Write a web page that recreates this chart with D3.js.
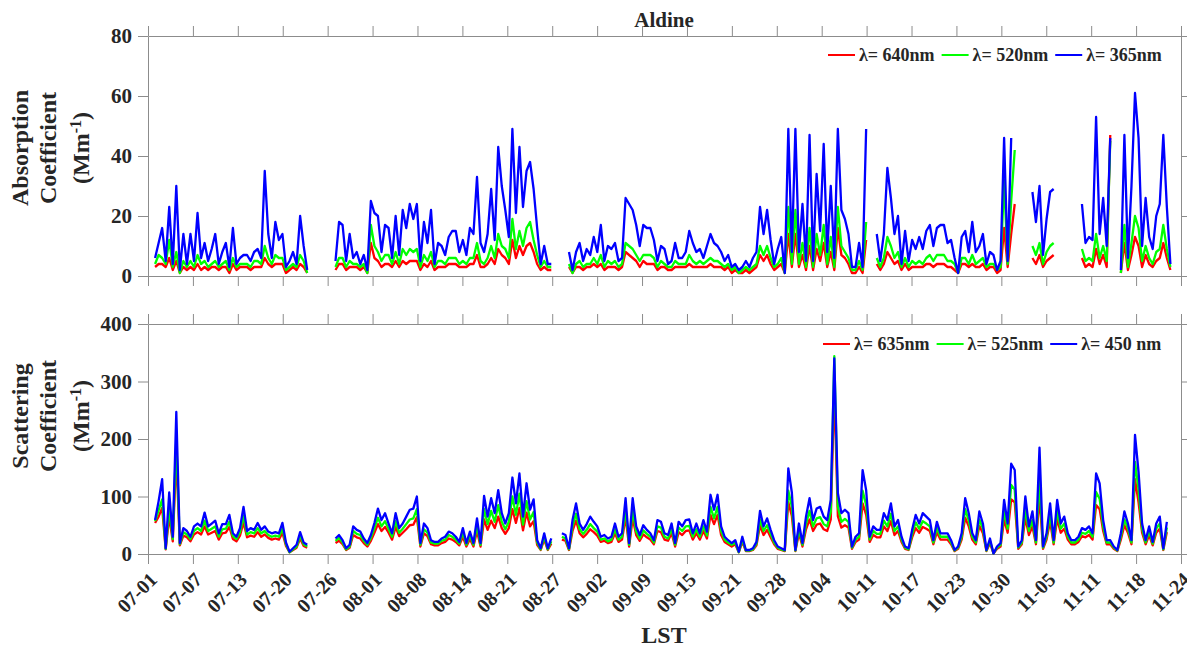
<!DOCTYPE html>
<html>
<head>
<meta charset="utf-8">
<script src="https://cdn.jsdelivr.net/npm/d3@7"></script>
<style>
  body { margin: 0; background: #fff; }
  text { font-family: "Liberation Serif", "Times New Roman", serif; font-weight: bold; fill: #262626; }
  .tick text { font-size: 21px; }
  .xdate .tick text { font-size: 20px; }
  .ylab { font-size: 24px; }
  .legend { font-size: 18px; }
</style>
</head>
<body>
<svg id="chart" width="1187" height="652"></svg>
<script>
// values, resampled to half-day steps starting at 07-02 (day 1 after 07-01)
var t0 = 1, dt = 0.5;

var dateLabels = ["07-01","07-07","07-13","07-20","07-26","08-01","08-08","08-14","08-21","08-27",
  "09-02","09-09","09-15","09-21","09-28","10-04","10-11","10-17","10-23","10-30","11-05","11-11","11-18","11-24"];
var absTicks = [0, 20, 40, 60, 80];
var scaTicks = [0, 100, 200, 300, 400];
var absNames = ["\u03bb= 640nm", "\u03bb= 520nm", "\u03bb= 365nm"];
var scaNames = ["\u03bb= 635nm", "\u03bb= 525nm", "\u03bb= 450 nm"];
var colors = ["#ff0000", "#00ff00", "#0000ff"];

// absorption coefficient (Mm-1)
var abs365 = [6,11,16,5,23,4,30,2,14,4,14,5,21,6,11,5,9,14,4,8,
  11,3,16,4,6,7,7,5,8,9,6,35,14,6,18,12,14,3,5,8,
  4,20,10,2,null,null,null,null,null,null,null,5,18,17,5,14,6,8,4,7,
  2,25,21,20,8,17,16,6,20,7,22,16,24,19,24,5,18,11,22,4,
  11,10,7,13,15,15,8,12,7,16,14,33,11,8,14,29,12,43,30,22,
  13,49,21,43,23,35,38,29,16,4,10,4,4,null,null,null,null,8,2,8,
  11,5,9,7,13,8,17,5,10,9,11,5,6,26,24,22,17,10,17,16,
  16,12,5,10,9,4,5,11,6,6,8,15,11,8,9,6,10,14,11,10,
  8,5,7,3,4,2,3,5,3,6,8,23,14,22,12,4,9,13,1,49,
  8,49,8,24,5,47,5,34,15,44,8,30,6,49,22,19,14,3,3,11,
  3,49,null,null,14,5,14,36,26,14,20,4,15,5,12,9,13,9,15,17,
  10,16,17,17,11,12,6,1,13,15,8,18,8,10,14,4,8,7,2,5,
  46,5,46,null,null,null,null,null,28,18,30,7,19,28,29,null,null,null,null,null,
  null,null,24,11,13,12,53,14,26,10,46,null,null,2,47,6,30,61,46,10,
  26,13,9,20,24,47,23,4];
var abs520 = [4,7,6,4,12,3,8,1,5,3,5,3,7,4,5,3,4,5,3,4,
  5,2,6,3,4,4,4,3,5,5,4,10,6,4,7,6,6,2,3,4,
  3,7,5,1,null,null,null,null,null,null,null,3,6,6,3,5,4,4,3,4,
  1,17,10,8,5,7,7,4,8,4,9,7,9,8,9,3,7,5,8,3,
  5,5,4,6,6,6,4,5,4,6,6,11,5,4,6,10,6,14,10,9,
  6,19,9,15,10,16,18,12,7,3,5,3,3,null,null,null,null,4,1,4,
  5,3,4,4,6,4,7,3,5,4,5,3,4,11,10,9,7,5,7,7,
  7,6,3,5,4,3,3,5,4,4,4,7,5,4,5,4,5,6,5,5,
  4,3,4,2,3,1,2,3,2,3,4,10,7,10,6,3,4,6,1,23,
  4,22,4,11,3,16,3,14,7,17,4,13,3,23,10,8,6,2,2,5,
  2,18,null,null,6,3,6,13,10,6,8,3,6,3,5,4,5,4,6,7,
  5,7,7,7,5,5,4,1,6,6,4,7,4,5,6,3,4,4,2,3,
  32,4,25,42,null,null,null,null,10,7,11,4,8,10,11,null,null,null,null,null,
  null,null,9,5,6,5,14,6,10,5,45,null,null,1,17,3,11,20,16,5,
  10,6,4,8,9,17,9,3];
var abs640 = [3,4,4,3,6,2,5,1,3,2,3,2,4,2,3,2,3,3,2,3,
  3,1,4,2,3,3,3,2,3,3,3,6,4,3,4,4,4,1,2,3,
  2,4,3,1,null,null,null,null,null,null,null,2,4,4,2,3,3,3,2,3,
  1,11,6,5,3,4,4,3,5,3,5,4,5,5,5,2,4,3,5,2,
  3,3,3,4,4,4,3,3,3,4,4,7,3,3,4,6,4,9,7,6,
  4,12,6,10,7,10,11,8,4,2,3,2,2,null,null,null,null,3,1,3,
  3,2,3,3,4,3,4,2,3,3,3,2,3,8,7,6,5,3,5,4,
  4,4,2,3,3,2,2,3,3,3,3,4,3,3,3,3,3,4,3,3,
  3,2,3,1,2,1,1,2,1,2,3,7,5,7,4,2,3,4,1,14,
  3,14,3,7,2,10,2,9,5,11,3,8,2,16,7,6,4,1,1,3,
  1,12,null,null,4,2,4,8,6,4,5,2,4,2,3,3,3,3,4,4,
  3,4,4,4,3,3,2,1,4,4,3,4,3,3,4,2,3,3,1,2,
  16,3,14,24,null,null,null,null,6,4,7,3,5,6,7,null,null,null,null,null,
  null,null,6,3,4,3,9,4,7,3,47,null,null,1,11,2,7,13,10,3,
  7,4,3,5,6,11,6,2];

// scattering coefficient (Mm-1)
var sca450 = [59,92,130,10,107,30,247,19,45,40,30,48,53,48,72,48,53,58,36,52,
  52,68,36,30,45,82,40,45,42,54,42,48,39,36,38,36,54,20,4,10,
  16,38,20,16,null,null,null,null,null,null,null,27,33,24,10,16,48,42,39,27,
  19,33,54,79,59,71,53,36,71,45,53,65,77,79,100,19,53,45,24,21,
  21,27,30,39,36,30,21,45,19,39,19,62,19,101,65,97,71,111,71,53,
  71,133,88,140,65,123,77,95,24,10,36,10,27,null,null,36,33,10,59,88,
  53,42,52,65,56,48,30,33,27,30,53,30,36,97,19,97,48,33,50,42,
  36,24,59,56,36,33,53,19,56,48,59,60,36,53,36,59,39,103,77,103,
  48,30,24,19,24,4,30,7,7,10,21,75,48,62,42,24,13,10,7,149,
  107,7,53,19,65,97,59,79,82,65,59,94,340,106,71,77,71,13,30,36,
  146,111,30,48,42,42,71,59,88,48,59,30,13,10,42,68,53,71,65,59,
  24,56,36,36,36,24,7,13,36,97,71,36,24,74,53,7,27,1,13,19,
  94,53,157,146,13,24,100,48,74,24,185,13,36,88,24,94,53,65,36,24,
  24,30,45,42,48,36,140,123,59,24,24,13,7,36,74,53,24,207,143,53,
  24,48,21,53,65,10,56,null];
var sca525 = [57,76,95,9,80,26,200,17,38,34,26,40,45,40,58,40,44,48,30,43,
  44,56,31,26,38,66,34,38,36,45,36,40,33,30,32,30,44,17,3,8,
  13,32,17,13,null,null,null,null,null,null,null,23,28,20,8,13,40,35,33,23,
  16,28,45,63,48,57,44,30,57,37,44,52,60,62,78,16,43,37,20,18,
  18,23,25,33,30,25,18,37,16,32,16,50,16,78,52,75,56,85,56,43,
  56,100,68,105,51,92,60,73,20,8,30,8,22,null,null,30,27,8,48,70,
  43,35,42,52,45,39,25,27,22,25,43,25,30,78,16,76,39,27,41,35,
  30,20,48,46,30,27,44,16,46,40,48,49,30,43,30,48,32,82,62,82,
  40,25,20,16,20,3,25,6,6,8,18,60,40,50,35,20,11,8,6,110,
  82,6,43,16,52,75,48,62,64,52,48,74,344,82,56,61,56,11,25,30,
  110,85,25,40,35,35,58,48,70,40,48,25,11,8,35,55,44,57,53,48,
  20,46,30,30,30,20,6,11,30,78,58,30,20,60,44,6,23,1,11,16,
  75,44,120,112,11,20,78,40,59,20,130,11,30,70,20,75,44,53,30,20,
  20,25,37,35,40,30,108,96,48,20,20,11,6,30,60,44,20,160,112,44,
  20,40,18,44,53,8,46,null];
var sca635 = [54,65,80,8,65,22,170,15,32,29,22,34,38,34,48,34,37,40,25,36,
  37,47,26,22,32,55,29,32,30,38,30,34,28,25,27,25,37,14,3,7,
  11,27,14,11,null,null,null,null,null,null,null,19,23,17,7,11,33,29,27,19,
  13,23,37,52,40,47,37,25,47,31,37,43,50,51,64,13,36,31,17,15,
  15,19,21,27,25,21,15,30,13,26,13,40,13,60,42,58,45,65,45,35,
  45,78,54,80,41,72,48,57,16,7,25,7,18,null,null,25,23,7,40,58,
  36,29,35,43,38,32,21,23,19,21,36,21,25,64,13,62,33,23,34,29,
  25,17,40,38,25,23,36,13,38,33,40,41,25,36,25,40,27,68,52,68,
  33,21,17,13,17,3,21,5,5,7,15,50,33,42,29,17,9,7,5,90,
  66,5,36,13,43,60,40,51,53,43,40,60,290,66,46,50,46,9,21,25,
  88,68,21,33,29,29,48,40,57,33,40,21,9,7,29,45,37,47,44,40,
  17,38,25,25,25,17,5,9,25,63,48,25,17,49,36,5,19,1,9,13,
  60,37,95,90,9,17,63,33,48,17,100,9,25,57,17,61,37,44,25,17,
  17,21,31,29,33,25,85,78,40,17,17,9,5,25,50,37,17,130,90,37,
  17,33,15,37,44,7,38,null];

var svg = d3.select("#chart");
var nDays = 146;
var x = d3.scaleLinear().domain([0, nDays]).range([148, 1181]);
var xTickVals = dateLabels.map(function(d, i) { return i * nDays / (dateLabels.length - 1); });

function toPoints(arr) {
  return arr.map(function(v, i) { return { t: t0 + i * dt, v: v }; });
}

function drawPanel(cfg) {
  var y = d3.scaleLinear().domain(cfg.domain).range(cfg.range);
  var g = svg.append("g").attr("color", "#8c8c8c");

  g.append("g").attr("transform", "translate(" + x.range()[0] + ",0)")
    .call(d3.axisLeft(y).tickValues(cfg.ticks).tickSize(10).tickSizeOuter(0).tickPadding(6));
  g.append("g").attr("transform", "translate(" + x.range()[1] + ",0)")
    .call(d3.axisRight(y).tickValues(cfg.ticks).tickSize(10).tickSizeOuter(0).tickFormat(""));
  g.append("g").attr("transform", "translate(0," + cfg.range[1] + ")")
    .call(d3.axisTop(x).tickValues(xTickVals).tickSize(10).tickSizeOuter(0).tickFormat(""));
  var bx = g.append("g").attr("class", cfg.dates ? "xdate" : null)
    .attr("transform", "translate(0," + cfg.range[0] + ")")
    .call(d3.axisBottom(x).tickValues(xTickVals).tickSize(10).tickSizeOuter(0)
      .tickFormat(cfg.dates ? function(d, i) { return dateLabels[i]; } : ""));
  if (cfg.dates) {
    bx.selectAll(".tick text")
      .attr("text-anchor", "end")
      .attr("x", 0).attr("y", 0).attr("dy", "0.35em")
      .attr("transform", "translate(5,22) rotate(-45)");
  }

  var line = d3.line()
    .defined(function(d) { return d.v !== null; })
    .x(function(d) { return x(d.t); })
    .y(function(d) { return y(d.v); });

  cfg.series.forEach(function(s, i) {
    svg.append("path")
      .datum(toPoints(s))
      .attr("fill", "none")
      .attr("stroke", colors[i])
      .attr("stroke-width", 2.3)
      .attr("stroke-linejoin", "round")
      .attr("d", line);
  });

  // legend, laid out left to right
  var lx = cfg.legendX;
  cfg.names.forEach(function(name, i) {
    svg.append("line")
      .attr("x1", lx).attr("x2", lx + 27)
      .attr("y1", cfg.legendY).attr("y2", cfg.legendY)
      .attr("stroke", colors[i]).attr("stroke-width", 2);
    var t = svg.append("text").attr("class", "legend")
      .attr("x", lx + 31).attr("y", cfg.legendY).attr("dy", "0.35em")
      .text(name);
    lx = lx + 31 + t.node().getComputedTextLength() + 7;
  });

  // y label, three rotated lines
  var cy = cfg.labelY;
  svg.append("text").attr("class", "ylab").attr("text-anchor", "middle")
    .attr("transform", "translate(28," + cy + ") rotate(-90)").text(cfg.label);
  svg.append("text").attr("class", "ylab").attr("text-anchor", "middle")
    .attr("transform", "translate(56," + cy + ") rotate(-90)").text("Coefficient");
  var u = svg.append("text").attr("class", "ylab").attr("text-anchor", "middle")
    .attr("transform", "translate(89," + cy + ") rotate(-90)");
  u.append("tspan").text("(Mm");
  u.append("tspan").attr("baseline-shift", "super").attr("font-size", "16px").text("-1");
  u.append("tspan").text(")");
}

drawPanel({
  domain: [0, 80], range: [276, 36], ticks: absTicks, dates: false,
  series: [abs640, abs520, abs365], names: absNames,
  legendX: 828, legendY: 55, label: "Absorption", labelY: 148
});
drawPanel({
  domain: [0, 400], range: [554, 324], ticks: scaTicks, dates: true,
  series: [sca635, sca525, sca450], names: scaNames,
  legendX: 823, legendY: 344, label: "Scattering", labelY: 416
});

svg.append("text").attr("x", 664).attr("y", 27).attr("text-anchor", "middle")
  .style("font-size", "21px").text("Aldine");
svg.append("text").attr("x", 664).attr("y", 643).attr("text-anchor", "middle")
  .style("font-size", "24px").text("LST");
</script>
</body>
</html>
